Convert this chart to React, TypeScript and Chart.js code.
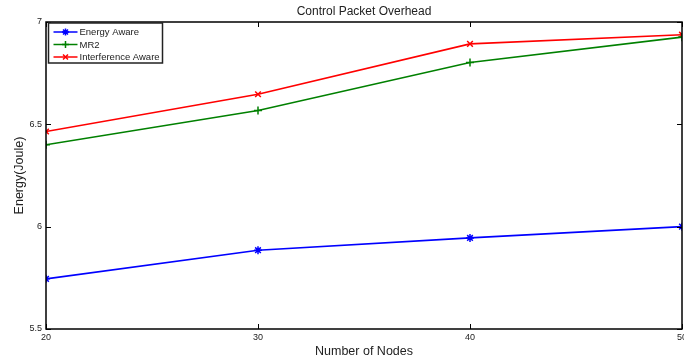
import React, { useEffect, useRef } from "react";
import { Chart, registerables } from "chart.js";
import { drawPoint } from "chart.js/helpers";

Chart.register(...registerables);

const nodes = [20, 30, 40, 50];
const energyAware = [5.745, 5.885, 5.945, 6.0];
const mr2 = [6.4, 6.568, 6.802, 6.926];
const interferenceAware = [6.465, 6.647, 6.893, 6.938];
const yTicks = [5.5, 6, 6.5, 7];
const xTicks = [20, 30, 40, 50];

const FONT = "'Liberation Sans', Arial, Helvetica, sans-serif";
const CANVAS_W = 700;

const framePlugin = {
  id: "matlabFrame",
  afterDatasetsDraw(chart: any) {
    const { ctx, chartArea: a, scales } = chart;
    ctx.save();
    ctx.strokeStyle = "#000";
    ctx.lineWidth = 1;
    const tl = 5;
    ctx.beginPath();
    xTicks.forEach((v) => {
      const x = Math.round(scales.x.getPixelForValue(v)) + 0.5;
      ctx.moveTo(x, a.bottom);
      ctx.lineTo(x, a.bottom - tl);
      ctx.moveTo(x, a.top);
      ctx.lineTo(x, a.top + tl);
    });
    yTicks.forEach((v) => {
      const y = Math.round(scales.y.getPixelForValue(v)) + 0.5;
      ctx.moveTo(a.left, y);
      ctx.lineTo(a.left + tl, y);
      ctx.moveTo(a.right, y);
      ctx.lineTo(a.right - tl, y);
    });
    ctx.stroke();
    ctx.lineWidth = 1.5;
    ctx.strokeRect(a.left, a.top, a.right - a.left, a.bottom - a.top);

    // legend
    const lx = a.left + 2.5;
    const ly = a.top + 1;
    const lw = 114;
    const lh = 40;
    ctx.fillStyle = "#fff";
    ctx.fillRect(lx, ly, lw, lh);
    ctx.lineWidth = 1.5;
    ctx.strokeStyle = "#222";
    ctx.strokeRect(lx, ly, lw, lh);
    ctx.font = "9.5px " + FONT;
    ctx.textBaseline = "middle";
    ctx.textAlign = "left";
    chart.data.datasets.forEach((ds: any, i: number) => {
      const y = ly + 9 + i * 12.5;
      ctx.strokeStyle = ds.borderColor;
      ctx.fillStyle = ds.borderColor;
      ctx.lineWidth = 1.5;
      ctx.beginPath();
      ctx.moveTo(lx + 5, y);
      ctx.lineTo(lx + 29, y);
      ctx.stroke();
      drawPoint(ctx, { pointStyle: ds.pointStyle, radius: 3.5, borderWidth: 1.5, rotation: 0 } as any, lx + 17, y);
      ctx.fillStyle = "#222";
      ctx.fillText(ds.label, lx + 31, y + 0.5);
    });
    ctx.restore();
  },
};

export default function App() {
  const ref = useRef<HTMLCanvasElement>(null);
  useEffect(() => {
    if (!ref.current) return;
    const mk = (label: string, data: number[], color: string, ps: string) => ({
      label,
      data: data.map((v, i) => ({ x: nodes[i], y: v })),
      borderColor: color,
      backgroundColor: color,
      pointStyle: ps,
      pointRadius: 4,
      pointBorderWidth: 1.5,
      borderWidth: 1.6,
      tension: 0,
    });
    const chart = new Chart(ref.current, {
      type: "line",
      data: {
        datasets: [
          mk("Energy Aware", energyAware, "#0000ff", "star"),
          mk("MR2", mr2, "#008000", "cross"),
          mk("Interference Aware", interferenceAware, "#ff0000", "crossRot"),
        ],
      },
      options: {
        animation: false,
        responsive: false,
        layout: { padding: { left: 0, right: CANVAS_W - 682, top: 0, bottom: 0 } },
        plugins: {
          legend: { display: false },
          tooltip: { enabled: false },
          title: { display: false },
        },
        scales: {
          x: {
            type: "linear",
            min: 20,
            max: 50,
            afterBuildTicks: (s: any) => {
              s.ticks = xTicks.map((v) => ({ value: v }));
            },
            afterFit: (s: any) => {
              s.height = 33;
            },
            grid: { display: false, drawTicks: false, tickLength: 0 },
            border: { display: false },
            ticks: {
              color: "#222",
              font: { family: FONT, size: 9 },
              padding: 3,
              maxRotation: 0,
              autoSkip: false,
            },
            title: {
              display: true,
              text: "Number of Nodes",
              color: "#222",
              font: { family: FONT, size: 12.5 },
              padding: { top: 0, bottom: 3 },
            },
          },
          xTop: {
            type: "linear",
            position: "top",
            min: 20,
            max: 50,
            afterFit: (s: any) => {
              s.height = 22;
            },
            grid: { display: false, drawTicks: false, tickLength: 0 },
            border: { display: false },
            ticks: { display: false },
            title: {
              display: true,
              text: "Control Packet Overhead",
              color: "#222",
              font: { family: FONT, size: 12 },
              padding: { top: 4, bottom: 0 },
            },
          },
          y: {
            type: "linear",
            min: 5.5,
            max: 7,
            afterBuildTicks: (s: any) => {
              s.ticks = yTicks.map((v) => ({ value: v }));
            },
            afterFit: (s: any) => {
              s.width = 46;
            },
            grid: { display: false, drawTicks: false, tickLength: 0 },
            border: { display: false },
            ticks: {
              color: "#222",
              font: { family: FONT, size: 9 },
              padding: 4,
              callback: (v: any) => String(v),
            },
            title: {
              display: true,
              text: "Energy(Joule)",
              color: "#222",
              font: { family: FONT, size: 12.5 },
              padding: { top: 12, bottom: 0 },
            },
          },
        },
      },
      plugins: [framePlugin],
    } as any);
    return () => chart.destroy();
  }, []);
  return (
    <div style={{ position: "fixed", left: 0, top: 0, width: 684, height: 362, overflow: "hidden", background: "#fff" }}>
      <canvas ref={ref} width={CANVAS_W} height={362} style={{ display: "block" }} />
    </div>
  );
}
